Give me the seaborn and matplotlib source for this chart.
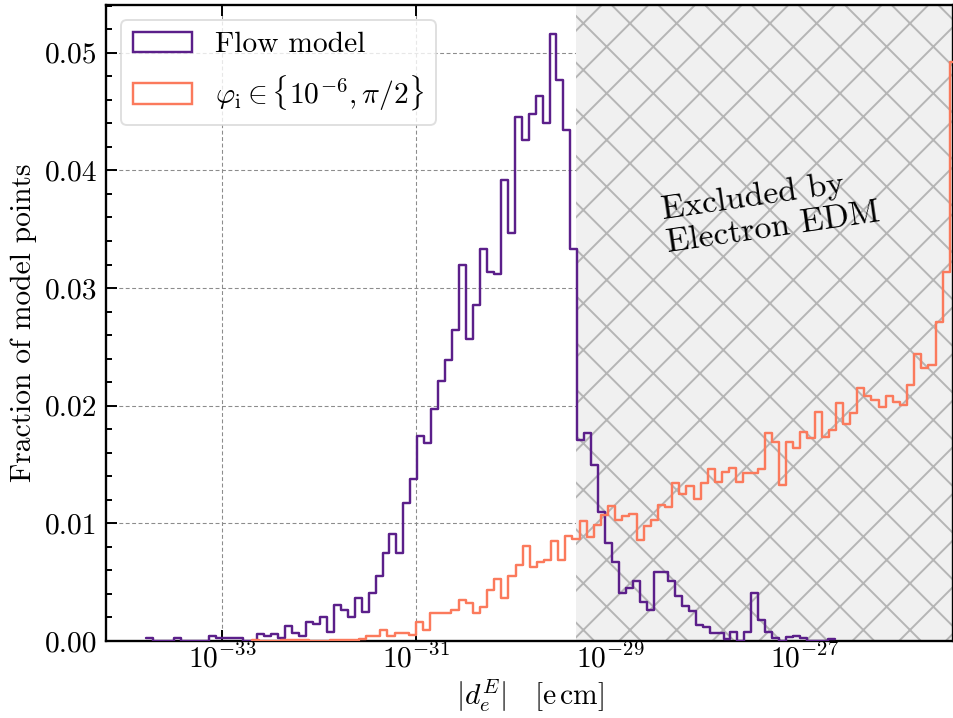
import numpy as np
import pandas as pd
import matplotlib
matplotlib.use("Agg")
import matplotlib.pyplot as plt
import matplotlib.patches as mpatches
from matplotlib.ticker import MultipleLocator, NullLocator
import seaborn as sns

# ---------------- data ----------------
# log10 range of the bins of each histogram
flow_log_range = (-33.782, -26.693)
phi_log_range = (-32.689, -25.437)

flow_fraction = [
    0.00023, 0, 0, 0, 0.00023, 0, 0, 0, 0, 0.00042,
    0.00023, 0.00023, 0.00023, 0.00023, 0, 0, 0.00063, 0.0004, 0.00063, 0.00023,
    0.00125, 0.00066, 0.00042, 0.00164, 0.00144, 0.00205, 0.0008, 0.00307, 0.00263, 0.00205,
    0.00367, 0.00243, 0.00405, 0.0055, 0.00752, 0.00913, 0.00752, 0.01176, 0.01377, 0.0174,
    0.01683, 0.0197, 0.0221, 0.0239, 0.0264, 0.0320, 0.0257, 0.0286, 0.0333, 0.0314,
    0.0312, 0.0392, 0.0347, 0.0445, 0.0426, 0.0448, 0.0463, 0.0440, 0.0516, 0.0477,
    0.0434, 0.0333, 0.0171, 0.01765, 0.0150, 0.01094, 0.0083, 0.0067, 0.00405, 0.00448,
    0.00507, 0.00328, 0.00267, 0.00589, 0.00589, 0.00507, 0.0038, 0.003, 0.00259, 0.00136,
    0.00122, 0.0007, 0.00065, 0.0002, 0.00075, 0, 0.00075, 0.00405, 0.0018, 0.00075,
    0.00023, 0, 0.0003, 0.0004, 0.00023, 0, 0, 0, 0.00017,
]

phi_fraction = [
    0.0001, 0, 0, 0, 0.0001, 0.0001, 0.0001, 0.0001, 0, 0,
    0, 0.0001, 0.0001, 0.0001, 0.0001, 0.0002, 0.00042, 0.00042, 0.00093, 0.00042,
    0.00065, 0.0007, 0.00055,
    0.00164, 0.00093, 0.0024, 0.00235, 0.00235, 0.00265, 0.00352, 0.0032, 0.0024, 0.00287,
    0.0043, 0.00523, 0.00366, 0.0055, 0.0065, 0.0081, 0.0063, 0.00668, 0.00685, 0.0085,
    0.0069, 0.0089, 0.0087, 0.0102, 0.00887, 0.0099, 0.0107, 0.0115, 0.0103, 0.0106,
    0.0108, 0.0086, 0.0098, 0.0103, 0.0116, 0.0114, 0.0134, 0.0125, 0.0132, 0.0121,
    0.0134, 0.0146, 0.01354, 0.01434, 0.01468, 0.01354, 0.0143, 0.01425, 0.0146, 0.01765,
    0.01689, 0.01326, 0.01689, 0.01643, 0.01774, 0.01728, 0.01949, 0.01737, 0.01793, 0.0202,
    0.01842, 0.0194, 0.0215, 0.0208, 0.0205, 0.0199, 0.0208, 0.0203, 0.0201, 0.0218,
    0.0244, 0.0232, 0.0235, 0.0271, 0.0314, 0.0492,
]

series_labels = ["Flow model", r"$\varphi_{\rm i} \in \{10^{-6}, \pi/2\}$"]
series_colors = ["#5b1f8a", "#fb7a5c"]
edm_limit = 4.4e-30
x_limits = (10 ** -34.193, 10 ** -25.474)
x_ticks = [1e-33, 1e-31, 1e-29, 1e-27]
y_limits = (0.0, 0.05406)
excluded_text = "Excluded by\nElectron EDM"
x_label = r"$|d_e^E| \quad [\mathrm{e\,cm}]$"
y_label = "Fraction of model points"

# ---------------- style ----------------
DPI = 280
sns.set_style("ticks")
plt.rcParams.update({
    "font.family": "serif",
    "font.serif": ["cmr10", "DejaVu Serif"],
    "mathtext.fontset": "cm",
    "axes.formatter.use_mathtext": True,
    "axes.unicode_minus": False,
    "font.size": 7.6,
    "hatch.linewidth": 0.5,
    "lines.scale_dashes": False,
    "axes.linewidth": 0.6,
    "text.color": "black",
    "axes.labelcolor": "black",
    "axes.edgecolor": "black",
    "xtick.color": "black",
    "ytick.color": "black",
})

fig = plt.figure(figsize=(953 / DPI, 718 / DPI), dpi=DPI)
ax = fig.add_axes([106 / 953, 1 - 641 / 718, 847.3 / 953, 636 / 718])

ax.axvspan(edm_limit, 1e-20, facecolor="#f0f0f0", edgecolor="#b5b5b5",
           hatch="xx", linewidth=0, zorder=1)


def draw(values, log_range, color):
    edges = np.linspace(log_range[0], log_range[1], len(values) + 1)
    centers = 10 ** ((edges[:-1] + edges[1:]) / 2)
    df = pd.DataFrame({"d": centers, "w": values})
    sns.histplot(data=df, x="d", weights="w", bins=list(edges), log_scale=True,
                 element="step", fill=False, color=color, linewidth=0.62,
                 ax=ax, zorder=3)


draw(flow_fraction, flow_log_range, series_colors[0])
draw(phi_fraction, phi_log_range, series_colors[1])

ax.set_xscale("log")
ax.set_xlim(*x_limits)
ax.set_ylim(*y_limits)
ax.set_xticks(x_ticks)
ax.xaxis.set_minor_locator(NullLocator())
ax.yaxis.set_major_locator(MultipleLocator(0.01))
ax.yaxis.set_minor_locator(MultipleLocator(0.002))
ax.yaxis.set_major_formatter(matplotlib.ticker.FormatStrFormatter("%.2f"))
ax.tick_params(which="both", direction="in", top=True, right=True, width=0.5,
               color="black", labelcolor="black")
ax.tick_params(which="major", length=2.8, pad=2.2)
ax.tick_params(which="minor", length=1.5)
ax.tick_params(axis="x", which="major", pad=0.8)

ax.grid(True, which="major", color="#8c8c8c", linewidth=0.28,
        linestyle=(0, (1.0, 0.65)), zorder=1.5)

ax.set_xlabel(x_label, labelpad=1.0)
ax.set_ylabel(y_label, labelpad=2.0)

handles = [mpatches.Patch(facecolor="none", edgecolor=c, linewidth=0.62)
           for c in series_colors]
leg = ax.legend(handles, series_labels, loc="upper left", fancybox=True,
                framealpha=0.8, edgecolor="#d8d8d8")
leg.get_frame().set_linewidth(0.5)

ax.text(0.785, 0.676, excluded_text, transform=ax.transAxes, rotation=8.3,
        ha="center", va="center", multialignment="left", fontsize=8.7,
        rotation_mode="anchor", zorder=4, color="black")

fig.savefig("out.png", dpi=DPI)
